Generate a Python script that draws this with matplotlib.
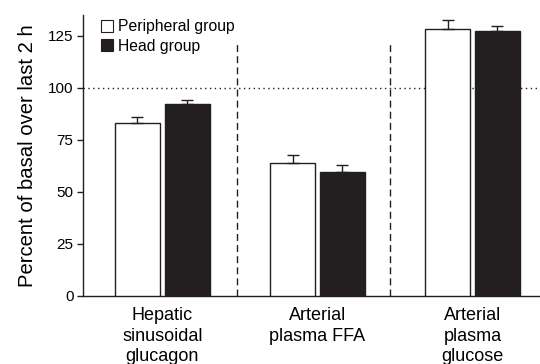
import numpy as np
import matplotlib.pyplot as plt
from matplotlib.lines import Line2D

plt.rcParams['font.family'] = ['Liberation Sans', 'DejaVu Sans']

categories = ["Hepatic\nsinusoidal\nglucagon", "Arterial\nplasma FFA", "Arterial\nplasma\nglucose"]
peripheral = [83, 64, 128]
peripheral_err = [3, 3.8, 4.5]
head = [92, 59.5, 127.5]
head_err = [2.3, 3.2, 2]
y_ticks = [0, 25, 50, 75, 100, 125]

fig = plt.figure(figsize=(5.4, 3.64), dpi=100)
ax = fig.add_axes([0.154, 0.187, 0.846, 0.772])

x = np.arange(len(categories))
w = 0.29
off = 0.16
dark = '#231f20'

ax.bar(x - off, peripheral, w, color='white', edgecolor=dark, linewidth=1.0, zorder=3)
ax.bar(x + off, head, w, color=dark, edgecolor=dark, linewidth=1.0, zorder=3)
ax.errorbar(x - off, peripheral, yerr=[np.zeros(3), peripheral_err], fmt='none',
            ecolor=dark, elinewidth=1.0, capsize=4.5, capthick=1.0, zorder=4)
ax.errorbar(x + off, head, yerr=[np.zeros(3), head_err], fmt='none',
            ecolor=dark, elinewidth=1.0, capsize=4.5, capthick=1.0, zorder=2)

# reference line at 100 % and group separators
ax.axhline(100, color=dark, linestyle=(0, (1, 2.5)), linewidth=1.0, zorder=1)
for xs in [0.48, 1.47]:
    ax.plot([xs, xs], [0, 122], color=dark, linestyle=(0, (5, 3)), linewidth=1.0, zorder=1)

ax.set_xlim(-0.51, 2.435)
ax.set_ylim(0, 135)
ax.set_yticks(y_ticks)
ax.tick_params(axis='y', labelsize=11, length=4, width=1, direction='out', color=dark, pad=3)
ax.set_xticks(x)
ax.set_xticklabels(categories, fontsize=13, linespacing=1.28)
ax.tick_params(axis='x', length=0, pad=8)
ax.spines['top'].set_visible(False)
ax.spines['right'].set_visible(False)
for s in ['left', 'bottom']:
    ax.spines[s].set_color(dark)
    ax.spines[s].set_linewidth(1.0)

ax.set_ylabel("Percent of basal over last 2 h", fontsize=14.6, labelpad=8)

handles = [
    Line2D([], [], marker='s', linestyle='none', markersize=8, markerfacecolor='white',
           markeredgecolor=dark, markeredgewidth=0.8, label='Peripheral group'),
    Line2D([], [], marker='s', linestyle='none', markersize=8, markerfacecolor=dark,
           markeredgecolor=dark, markeredgewidth=0.8, label='Head group'),
]
ax.legend(handles=handles, loc='upper left', bbox_to_anchor=(0.039, 0.985), frameon=False,
          fontsize=11.3, handlelength=0.8, handletextpad=0.3, borderaxespad=0, labelspacing=0.3,
          borderpad=0)

fig.savefig("out.png", dpi=100)
